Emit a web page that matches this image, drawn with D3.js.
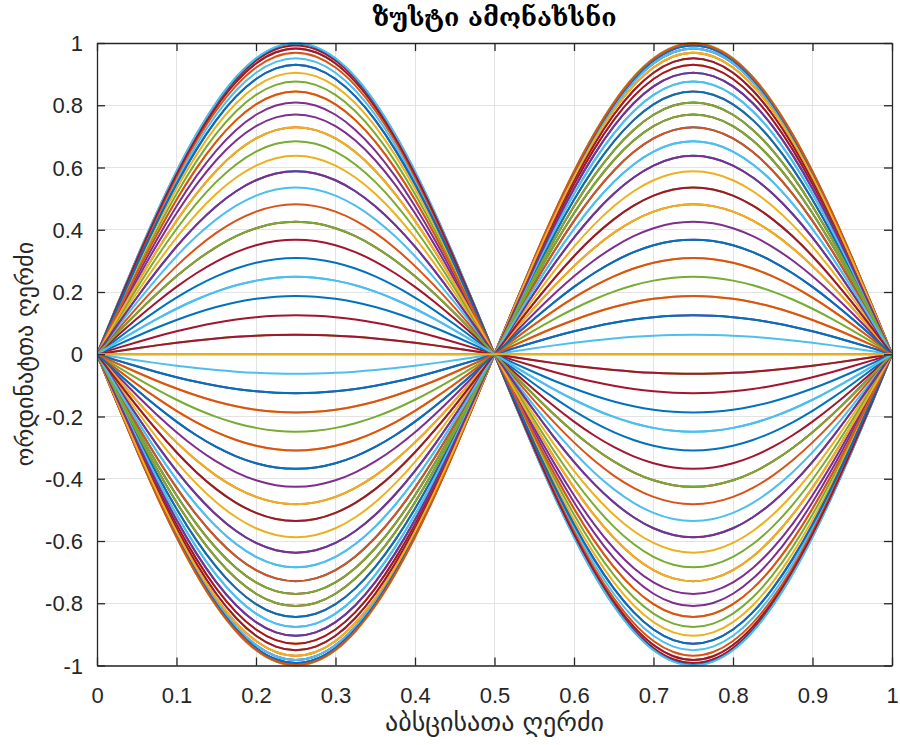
<!DOCTYPE html>
<html>
<head>
<meta charset="utf-8">
<script src="https://cdn.jsdelivr.net/npm/d3@7"></script>
<style>
  html, body { margin: 0; padding: 0; background: #fff; }
  svg { display: block; }
  .tick text { font-family: "Liberation Sans", Arial, sans-serif; fill: #262626; }
</style>
</head>
<body>
<svg id="chart" width="900" height="745"></svg>
<script>
// ---- data ----
const titleText = "ზუსტი ამონახსნი";
const xLabelText = "აბსცისათა ღერძი";
const yLabelText = "ორდინატთა ღერძი";

// sample positions along the string
const xGrid = [0, 0.025, 0.05, 0.075, 0.1, 0.125, 0.15, 0.175, 0.2, 0.225, 0.25, 0.275, 0.3, 0.325, 0.35,
  0.375, 0.4, 0.425, 0.45, 0.475, 0.5, 0.525, 0.55, 0.575, 0.6, 0.625, 0.65, 0.675, 0.7, 0.725, 0.75,
  0.775, 0.8, 0.825, 0.85, 0.875, 0.9, 0.925, 0.95, 0.975, 1];
// mode shape (normalised profile of each curve)
const modeShape = [0, 0.1564, 0.309, 0.454, 0.5878, 0.7071, 0.809, 0.891, 0.9511, 0.9877, 1, 0.9877,
  0.9511, 0.891, 0.809, 0.7071, 0.5878, 0.454, 0.309, 0.1564, 0, -0.1564, -0.309, -0.454, -0.5878,
  -0.7071, -0.809, -0.891, -0.9511, -0.9877, -1, -0.9877, -0.9511, -0.891, -0.809, -0.7071, -0.5878,
  -0.454, -0.309, -0.1564, 0];
// amplitude of each plotted time step, in drawing order
const amplitudes = [-0.729, -0.8443, -0.9298, -0.9823,
  -1, -0.9823, -0.9298, -0.8443, -0.729, -0.5878, -0.4258, -0.2487, -0.0628, 0.1253, 0.309, 0.4818,
  0.6374, 0.7705, 0.8763, 0.9511, 0.9921, 0.998, 0.9686, 0.9048, 0.809, 0.6845, 0.5358, 0.3681, 0.1874,
  0, -0.1874, -0.3681, -0.5358, -0.6845, -0.809, -0.9048, -0.9686, -0.998, -0.9921, -0.9511, -0.8763,
  -0.7705, -0.6374, -0.4818, -0.309, -0.1253, 0.0628, 0.2487, 0.4258, 0.5878, 0.729, 0.8443, 0.9298,
  0.9823, 1, 0.9823, 0.9298, 0.8443, 0.729, 0.5878, 0.4258, 0.2487, 0.0628, -0.1253, -0.309, -0.4818,
  -0.6374, -0.7705, -0.8763, -0.9511, -0.9921, -0.998, -0.9686, -0.9048, -0.809, -0.6845, -0.5358,
  -0.3681, -0.1874, 0];
const xTicks = [0, 0.1, 0.2, 0.3, 0.4, 0.5, 0.6, 0.7, 0.8, 0.9, 1];
const xTickLabels = ["0", "0.1", "0.2", "0.3", "0.4", "0.5", "0.6", "0.7", "0.8", "0.9", "1"];
const yTicks = [-1, -0.8, -0.6, -0.4, -0.2, 0, 0.2, 0.4, 0.6, 0.8, 1];
const yTickLabels = ["-1", "-0.8", "-0.6", "-0.4", "-0.2", "0", "0.2", "0.4", "0.6", "0.8", "1"];
const palette = ["#0072BD", "#D95319", "#EDB120", "#7E2F8E", "#77AC30", "#4DBEEE", "#A2142F"];

// ---- layout ----
const pLeft = 97, pRight = 892, pTop = 43, pBottom = 665.5;
const svg = d3.select("#chart");
const x = d3.scaleLinear().domain([0, 1]).range([pLeft, pRight]);
const y = d3.scaleLinear().domain([-1, 1]).range([pBottom, pTop]);
const axisColor = "#262626";
const gridColor = "#e3e3e3";
const tickFont = 22;

// grid
const grid = svg.append("g");
grid.selectAll("line.gx").data(xTicks).join("line")
  .attr("x1", d => x(d)).attr("x2", d => x(d)).attr("y1", pTop).attr("y2", pBottom)
  .attr("stroke", gridColor).attr("stroke-width", 1).attr("shape-rendering", "crispEdges");
grid.selectAll("line.gy").data(yTicks).join("line")
  .attr("y1", d => y(d)).attr("y2", d => y(d)).attr("x1", pLeft).attr("x2", pRight)
  .attr("stroke", gridColor).attr("stroke-width", 1).attr("shape-rendering", "crispEdges");

// curves
svg.append("clipPath").attr("id", "clip").append("rect")
  .attr("x", pLeft).attr("y", pTop - 1).attr("width", pRight - pLeft).attr("height", pBottom - pTop + 2);
const color = d3.scaleOrdinal().domain(d3.range(amplitudes.length)).range(palette);
const line = d3.line().x(d => x(d[0])).y(d => y(d[1])).curve(d3.curveNatural);
svg.append("g").attr("clip-path", "url(#clip)")
  .selectAll("path").data(amplitudes).join("path")
  .attr("d", a => line(xGrid.map((xv, i) => [xv, a * modeShape[i]])))
  .attr("fill", "none")
  .attr("stroke", (a, i) => color(i))
  .attr("stroke-width", 2)
  .attr("stroke-linejoin", "round");

// axes
const fmtX = (d, i) => xTickLabels[i];
const fmtY = (d, i) => yTickLabels[i];
const ax = svg.append("g").attr("transform", `translate(0,${pBottom})`)
  .call(d3.axisBottom(x).tickValues(xTicks).tickFormat(fmtX).tickSizeInner(-8).tickSizeOuter(0));
const axTop = svg.append("g").attr("transform", `translate(0,${pTop})`)
  .call(d3.axisTop(x).tickValues(xTicks).tickFormat("").tickSizeInner(-8).tickSizeOuter(0));
const ay = svg.append("g").attr("transform", `translate(${pLeft},0)`)
  .call(d3.axisLeft(y).tickValues(yTicks).tickFormat(fmtY).tickSizeInner(-8).tickSizeOuter(0));
const ayR = svg.append("g").attr("transform", `translate(${pRight},0)`)
  .call(d3.axisRight(y).tickValues(yTicks).tickFormat("").tickSizeInner(-8).tickSizeOuter(0));
[ax, axTop, ay, ayR].forEach(g => {
  g.select(".domain").attr("stroke", axisColor).attr("stroke-width", 1.3);
  g.selectAll(".tick line").attr("stroke", axisColor).attr("stroke-width", 1.3);
  g.selectAll(".tick text").attr("font-size", tickFont).attr("fill", axisColor);
});
ax.selectAll(".tick text").attr("y", 37).attr("dy", null);
ay.selectAll(".tick text").attr("x", -14).attr("dy", "0.35em");

// title and labels
svg.append("text").attr("x", (pLeft + pRight) / 2).attr("y", 26)
  .attr("text-anchor", "middle").attr("font-family", "DejaVu Serif, DejaVu Sans, serif")
  .attr("font-weight", "bold").attr("font-size", 25).attr("fill", "#000").text(titleText);
svg.append("text").attr("x", (pLeft + pRight) / 2).attr("y", 731)
  .attr("text-anchor", "middle").attr("font-family", "DejaVu Sans, sans-serif")
  .attr("font-size", 26).attr("fill", axisColor).text(xLabelText);
svg.append("text").attr("transform", `translate(33,${(pTop + pBottom) / 2}) rotate(-90)`)
  .attr("text-anchor", "middle").attr("font-family", "DejaVu Sans, sans-serif")
  .attr("font-size", 24).attr("fill", axisColor).text(yLabelText);
</script>
</body>
</html>
